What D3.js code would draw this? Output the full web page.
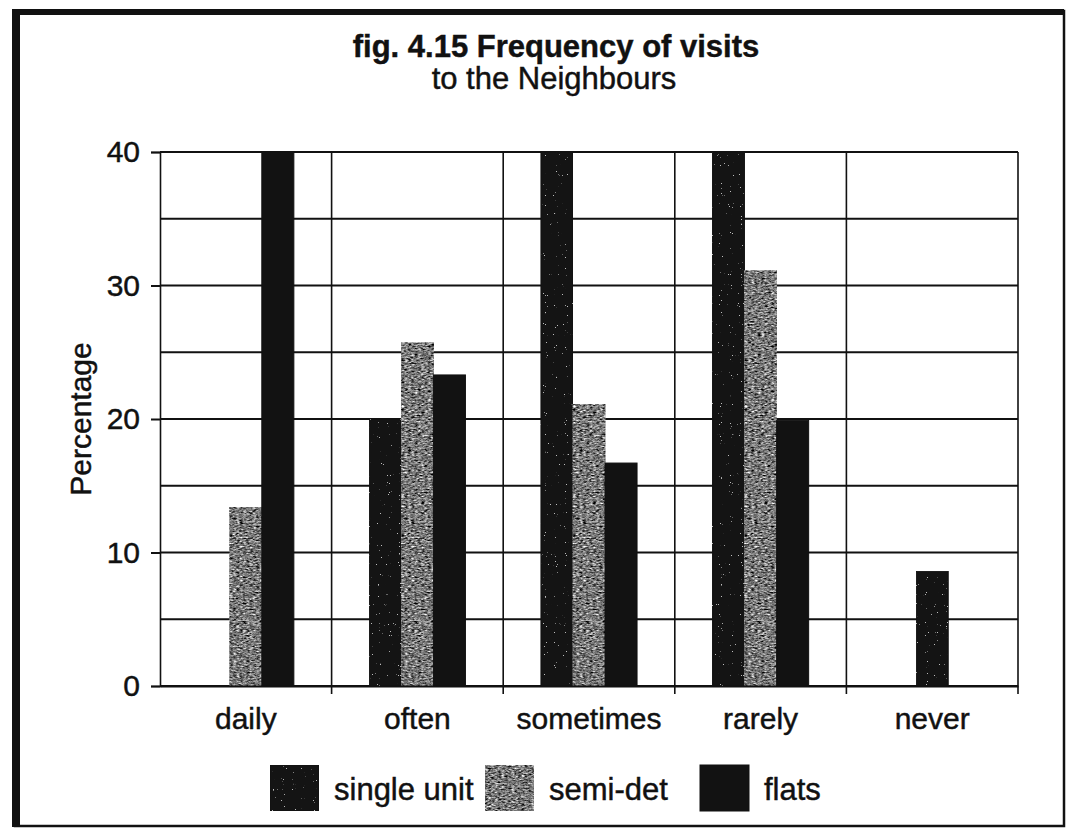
<!DOCTYPE html>
<html>
<head>
<meta charset="utf-8">
<script src="https://cdn.jsdelivr.net/npm/d3@7"></script>
<style>
  html, body { margin: 0; padding: 0; background: #fff; }
  svg { display: block; font-family: "Liberation Sans", Arial, Helvetica, sans-serif; }
  svg text { stroke: #111; stroke-width: 0.45px; fill: #111; }
</style>
</head>
<body>
<svg id="chart" width="1066" height="829"></svg>
<script>
// Frequency of visits to the neighbours, by dwelling type (percent)
const categories = ["daily", "often", "sometimes", "rarely", "never"];
const seriesNames = ["single unit", "semi-det", "flats"];
const singleUnit = [0, 20, 40, 40, 0];
const semiDet = [13.4, 25.7, 21.1, 31.1, 8.6];
const flats = [40, 23.3, 16.7, 19.9, 0];
const yTicks = [0, 10, 20, 30, 40];
const yGrid = [0, 5, 10, 15, 20, 25, 30, 35, 40];
const titleText = "fig. 4.15 Frequency of visits";
const subtitleText = "to the Neighbours";
const yLabel = "Percentage";

const seriesValues = [singleUnit, semiDet, flats];

const plot = { left: 160, right: 1018, top: 152, bottom: 686 };
const FONT = 30;

const svg = d3.select("#chart");

// ---- textures ----
const defs = svg.append("defs");

// grey mottled texture for semi-det
const mottle = defs.append("filter").attr("id", "mottle")
  .attr("color-interpolation-filters", "sRGB")
  .attr("x", 0).attr("y", 0).attr("width", 1).attr("height", 1);
mottle.append("feTurbulence").attr("type", "fractalNoise")
  .attr("baseFrequency", "0.3 0.65").attr("numOctaves", 2).attr("seed", 7).attr("result", "noise");
mottle.append("feColorMatrix").attr("in", "noise").attr("type", "matrix")
  .attr("values", "0.33 0.33 0.33 0 0  0.33 0.33 0.33 0 0  0.33 0.33 0.33 0 0  0 0 0 0 1")
  .attr("result", "grey");
const ct = mottle.append("feComponentTransfer").attr("in", "grey").attr("result", "shade");
["R", "G", "B"].forEach(c => ct.append("feFunc" + c).attr("type", "linear").attr("slope", 2.6).attr("intercept", -0.82));
mottle.append("feComposite").attr("in", "shade").attr("in2", "SourceGraphic").attr("operator", "in");

// dark fill with sparse pale specks
const speck = defs.append("filter").attr("id", "speck")
  .attr("color-interpolation-filters", "sRGB")
  .attr("x", 0).attr("y", 0).attr("width", 1).attr("height", 1);
speck.append("feTurbulence").attr("type", "fractalNoise")
  .attr("baseFrequency", "0.9").attr("numOctaves", 1).attr("seed", 3).attr("result", "noise");
speck.append("feColorMatrix").attr("in", "noise").attr("type", "matrix")
  .attr("values", "0 0 0 0 0.75  0 0 0 0 0.75  0 0 0 0 0.75  30 0 0 0 -21.6")
  .attr("result", "dots");
speck.append("feComposite").attr("in", "dots").attr("in2", "SourceGraphic").attr("operator", "in").attr("result", "dotsIn");
speck.append("feMerge").call(m => {
  m.append("feMergeNode").attr("in", "SourceGraphic");
  m.append("feMergeNode").attr("in", "dotsIn");
});

// ---- frame ----
svg.append("rect").attr("x", 15).attr("y", 11).attr("width", 1049).attr("height", 815)
  .attr("fill", "none").attr("stroke", "#111").attr("stroke-width", 2.5);
svg.append("line").attr("x1", 16).attr("x2", 16).attr("y1", 9).attr("y2", 827)
  .attr("stroke", "#111").attr("stroke-width", 8);
svg.append("line").attr("x1", 12).attr("x2", 1064).attr("y1", 12).attr("y2", 12)
  .attr("stroke", "#111").attr("stroke-width", 6);

// ---- titles ----
svg.append("text").attr("x", 556).attr("y", 57).attr("text-anchor", "middle")
  .attr("font-size", 31).attr("font-weight", "bold").text(titleText);
svg.append("text").attr("x", 554).attr("y", 89).attr("text-anchor", "middle")
  .attr("font-size", 31).text(subtitleText);

// ---- scales ----
const x0 = d3.scaleBand().domain(categories).range([plot.left, plot.right]).padding(0);
const bw = x0.bandwidth();
const x1 = d3.scaleBand().domain(seriesNames).range([bw * 0.22, bw * 0.78]).padding(0);
const y = d3.scaleLinear().domain([0, 40]).range([plot.bottom, plot.top]).clamp(true);

// ---- grid ----
const grid = svg.append("g");
grid.selectAll("line.h").data(yGrid).join("line")
  .attr("x1", plot.left).attr("x2", plot.right)
  .attr("y1", d => y(d)).attr("y2", d => y(d))
  .attr("stroke", "#111").attr("stroke-width", 2.2);
const vlines = categories.slice(1).map(c => x0(c)).concat([plot.right]);
grid.selectAll("line.v").data(vlines).join("line")
  .attr("x1", d => d).attr("x2", d => d)
  .attr("y1", plot.top).attr("y2", plot.bottom + 8)
  .attr("stroke", "#111").attr("stroke-width", 1.6);

// ---- bars ----
const rows = categories.map((c, i) => ({
  category: c,
  values: seriesNames.map((s, j) => ({ series: s, category: c, value: seriesValues[j][i] }))
}));

// the lone semi-det bar under "never" is printed in the dark speckle
function barStyle(d) {
  if (d.series === "semi-det" && d.category !== "never") return { fill: "#888", filter: "url(#mottle)" };
  if (d.series === "flats") return { fill: "#121212", filter: null };
  return { fill: "#141414", filter: "url(#speck)" };
}

svg.append("g").selectAll("g").data(rows).join("g")
  .attr("transform", d => `translate(${x0(d.category)},0)`)
  .selectAll("rect").data(d => d.values.filter(v => v.value > 0)).join("rect")
  .attr("x", d => x1(d.series))
  .attr("width", x1.bandwidth())
  .attr("y", d => y(d.value))
  .attr("height", d => y(0) - y(d.value))
  .attr("fill", d => barStyle(d).fill)
  .attr("filter", d => barStyle(d).filter)
  .attr("stroke", "#111").attr("stroke-width", 1);

// ---- axes ----
const yAxis = svg.append("g").attr("transform", `translate(${plot.left},0)`)
  .call(d3.axisLeft(y).tickValues(yTicks).tickSize(9).tickPadding(11).tickFormat(d3.format("d")));
yAxis.select(".domain").attr("stroke", "#111").attr("stroke-width", 1.6);
yAxis.selectAll(".tick line").attr("stroke", "#111").attr("stroke-width", 2);
yAxis.selectAll(".tick text").attr("font-size", FONT)
  .attr("font-family", "'Liberation Sans', Arial, sans-serif");

const xAxis = svg.append("g").attr("transform", `translate(0,${plot.bottom})`)
  .call(d3.axisBottom(x0).tickSize(0).tickPadding(22));
xAxis.select(".domain").attr("stroke", "#111").attr("stroke-width", 2.2);
xAxis.selectAll(".tick text").attr("font-size", FONT)
  .attr("font-family", "'Liberation Sans', Arial, sans-serif");

svg.append("text")
  .attr("transform", `translate(91,${(plot.top + plot.bottom) / 2}) rotate(-90)`)
  .attr("text-anchor", "middle").attr("font-size", FONT).text(yLabel);

// ---- legend ----
const legendItems = [
  { name: seriesNames[0], x: 270 },
  { name: seriesNames[1], x: 485 },
  { name: seriesNames[2], x: 700 }
];
const lg = svg.append("g").selectAll("g").data(legendItems).join("g")
  .attr("transform", d => `translate(${d.x},765)`);
lg.append("rect").attr("width", 49).attr("height", 46)
  .attr("fill", d => barStyle({ series: d.name, category: "" }).fill)
  .attr("filter", d => barStyle({ series: d.name, category: "" }).filter)
  .attr("stroke", "#111").attr("stroke-width", 1);
lg.append("text").attr("x", 64).attr("y", 35).attr("font-size", 31)
  .text(d => d.name);
</script>
</body>
</html>
